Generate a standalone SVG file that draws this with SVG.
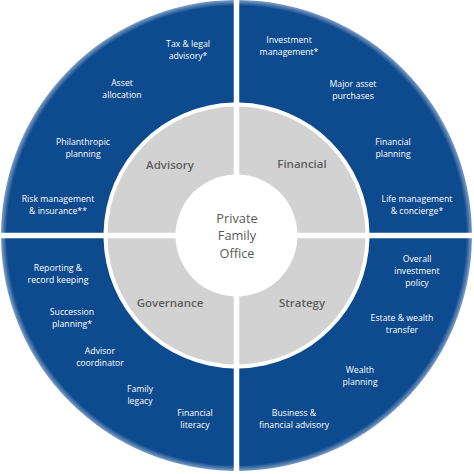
<svg xmlns="http://www.w3.org/2000/svg" width="474" height="474" viewBox="0 0 474 474">
<style>
.blue{fill:url(#bg)}
.gray{fill:#d2d2d2}
.t{font-family:"Open Sans","Liberation Sans",sans-serif;font-size:8.7px;fill:#ffffff;text-anchor:middle}
.h{font-family:"Open Sans","Liberation Sans",sans-serif;font-size:11.5px;font-weight:600;fill:#5f5f5f;text-anchor:middle}
.c{font-family:"Open Sans","Liberation Sans",sans-serif;font-size:12.8px;fill:#5a5a5a;text-anchor:middle}
</style>
<defs>
<radialGradient id="bg" gradientUnits="userSpaceOnUse" cx="236.5" cy="235.5" r="235.5">
<stop offset="0.975" stop-color="#0d4a8e"/>
<stop offset="1" stop-color="#7f9fc6"/>
</radialGradient>
</defs>
<rect width="474" height="474" fill="#ffffff"/>
<g id="connectors"></g>
<g id="advisory-services">
<path class="blue" d="M 233.75 0.02 A 235.5 235.5 0 0 0 1.02 232.75 L 103.53 232.75 A 133 133 0 0 1 233.75 102.53 Z"/>
<text class="t" x="188" y="47">Tax &amp; legal</text>
<text class="t" x="188" y="59">advisory*</text>
<text class="t" x="122" y="86">Asset</text>
<text class="t" x="122" y="98">allocation</text>
<text class="t" x="83" y="145">Philanthropic</text>
<text class="t" x="83" y="157">planning</text>
<text class="t" x="58" y="202">Risk management</text>
<text class="t" x="58" y="214">&amp; insurance**</text>
</g>
<g id="financial-services">
<path class="blue" d="M 239.25 0.02 A 235.5 235.5 0 0 1 471.98 232.75 L 369.47 232.75 A 133 133 0 0 0 239.25 102.53 Z"/>
<text class="t" x="289" y="43">Investment</text>
<text class="t" x="289" y="55">management*</text>
<text class="t" x="353" y="87">Major asset</text>
<text class="t" x="353" y="99">purchases</text>
<text class="t" x="393" y="145">Financial</text>
<text class="t" x="393" y="157">planning</text>
<text class="t" x="417" y="202">Life management</text>
<text class="t" x="417" y="214">&amp; concierge*</text>
</g>
<g id="governance-services">
<path class="blue" d="M 1.02 238.25 A 235.5 235.5 0 0 0 233.75 470.98 L 233.75 368.47 A 133 133 0 0 1 103.53 238.25 Z"/>
<text class="t" x="58" y="271">Reporting &amp;</text>
<text class="t" x="58" y="283">record keeping</text>
<text class="t" x="72" y="315">Succession</text>
<text class="t" x="72" y="327">planning*</text>
<text class="t" x="100" y="354">Advisor</text>
<text class="t" x="100" y="366">coordinator</text>
<text class="t" x="140" y="392">Family</text>
<text class="t" x="140" y="404">legacy</text>
<text class="t" x="195" y="416">Financial</text>
<text class="t" x="195" y="428">literacy</text>
</g>
<g id="strategy-services">
<path class="blue" d="M 239.25 470.98 A 235.5 235.5 0 0 0 471.98 238.25 L 369.47 238.25 A 133 133 0 0 1 239.25 368.47 Z"/>
<text class="t" x="417" y="262">Overall</text>
<text class="t" x="417" y="274">investment</text>
<text class="t" x="417" y="286">policy</text>
<text class="t" x="402" y="321">Estate &amp; wealth</text>
<text class="t" x="402" y="333">transfer</text>
<text class="t" x="360" y="373">Wealth</text>
<text class="t" x="360" y="385">planning</text>
<text class="t" x="294" y="416">Business &amp;</text>
<text class="t" x="294" y="428">financial advisory</text>
</g>
<g id="advisory">
<path class="gray" d="M 233.75 106.53 A 129 129 0 0 0 107.53 232.75 L 175.56 232.75 A 61 61 0 0 1 233.75 174.56 Z"/>
<text class="h" x="170" y="169">Advisory</text>
</g>
<g id="financial">
<path class="gray" d="M 239.25 106.53 A 129 129 0 0 1 365.47 232.75 L 297.44 232.75 A 61 61 0 0 0 239.25 174.56 Z"/>
<text class="h" x="302" y="168">Financial</text>
</g>
<g id="governance">
<path class="gray" d="M 107.53 238.25 A 129 129 0 0 0 233.75 364.47 L 233.75 296.44 A 61 61 0 0 1 175.56 238.25 Z"/>
<text class="h" x="170" y="307">Governance</text>
</g>
<g id="strategy">
<path class="gray" d="M 239.25 364.47 A 129 129 0 0 0 365.47 238.25 L 297.44 238.25 A 61 61 0 0 1 239.25 296.44 Z"/>
<text class="h" x="302" y="307">Strategy</text>
</g>
<g id="private-family-office">
<text class="c" x="237" y="222.5">Private</text>
<text class="c" x="237" y="240">Family</text>
<text class="c" x="237" y="257.5">Office</text>
</g>
</svg>
